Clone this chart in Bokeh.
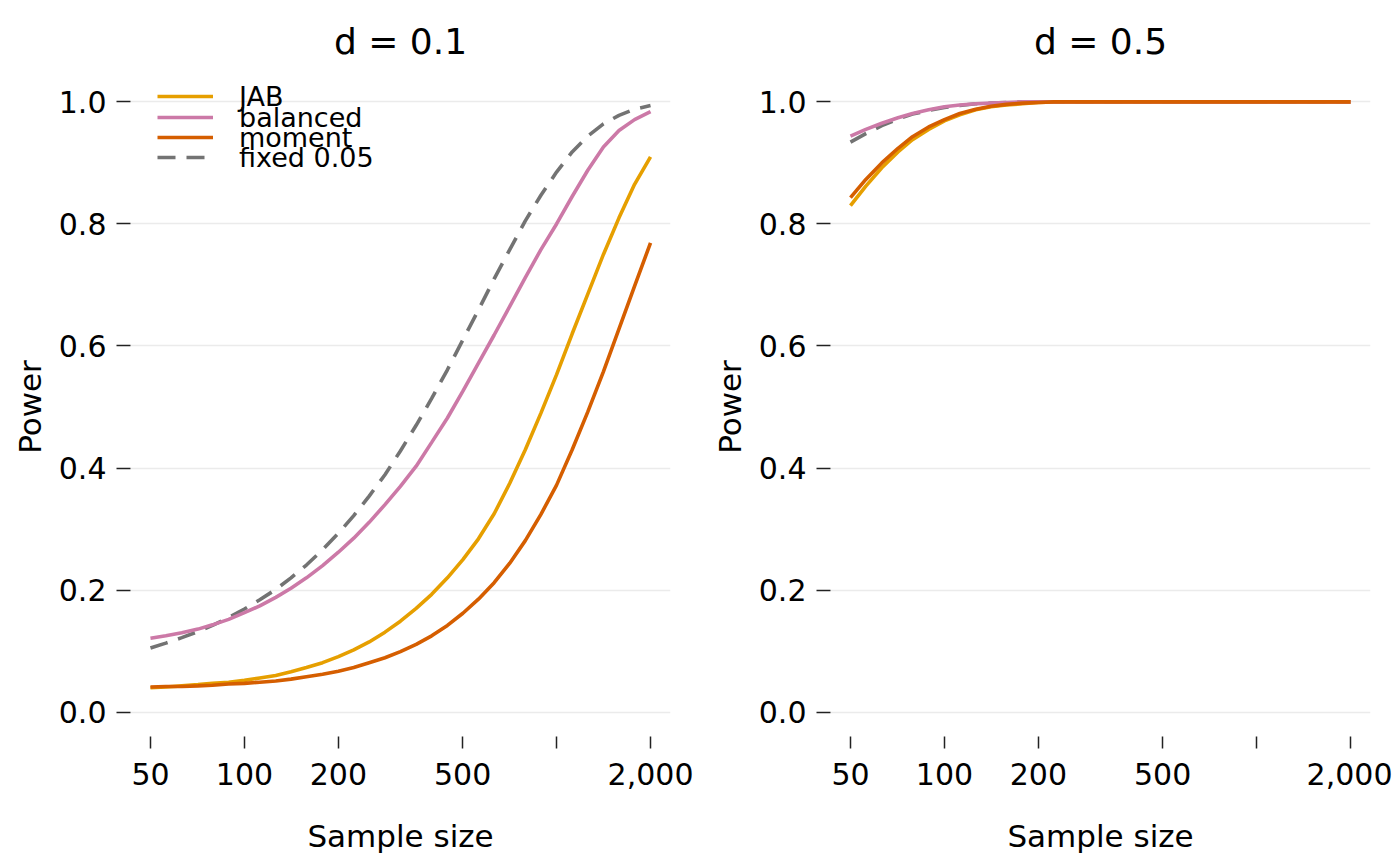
from bokeh.plotting import figure
from bokeh.layouts import row
from bokeh.models import Range1d, FixedTicker, Legend, LegendItem
from bokeh.embed import file_html
from bokeh.resources import INLINE

# ---- data ----
sample_size = [50, 56, 63, 71, 79, 89, 100, 112, 126, 141, 158, 178, 200, 224,
               251, 282, 316, 355, 398, 447, 501, 562, 631, 708, 794, 891, 1000,
               1122, 1259, 1413, 1585, 1778, 2000]

# d = 0.1
jab_01 = [0.040, 0.041, 0.043, 0.045, 0.047, 0.049, 0.052, 0.056, 0.060, 0.066,
          0.073, 0.081, 0.091, 0.102, 0.115, 0.131, 0.149, 0.170, 0.193, 0.220,
          0.250, 0.284, 0.325, 0.375, 0.430, 0.490, 0.553, 0.620, 0.685, 0.750,
          0.810, 0.865, 0.910]
balanced_01 = [0.121, 0.125, 0.130, 0.136, 0.143, 0.152, 0.163, 0.174, 0.188, 0.203,
               0.220, 0.240, 0.262, 0.285, 0.311, 0.340, 0.370, 0.403, 0.442, 0.482,
               0.526, 0.572, 0.618, 0.665, 0.712, 0.758, 0.800, 0.845, 0.888, 0.926,
               0.953, 0.971, 0.984]
moment_01 = [0.041, 0.042, 0.042, 0.043, 0.044, 0.046, 0.047, 0.049, 0.051, 0.054,
             0.058, 0.062, 0.067, 0.073, 0.081, 0.089, 0.099, 0.111, 0.125, 0.142,
             0.162, 0.185, 0.212, 0.244, 0.281, 0.324, 0.372, 0.430, 0.492, 0.558,
             0.628, 0.698, 0.769]
fixed_01 = [0.105, 0.113, 0.122, 0.132, 0.142, 0.155, 0.169, 0.184, 0.201, 0.220,
            0.241, 0.266, 0.293, 0.322, 0.354, 0.389, 0.428, 0.470, 0.514, 0.561,
            0.610, 0.659, 0.710, 0.758, 0.805, 0.847, 0.885, 0.918, 0.944, 0.964,
            0.978, 0.988, 0.994]

# d = 0.5
jab_05 = [0.830, 0.862, 0.892, 0.918, 0.938, 0.955, 0.969, 0.979, 0.987, 0.992,
          0.995, 0.997, 0.999, 1.0, 1.0, 1.0, 1.0, 1.0, 1.0, 1.0, 1.0, 1.0, 1.0,
          1.0, 1.0, 1.0, 1.0, 1.0, 1.0, 1.0, 1.0, 1.0, 1.0]
balanced_05 = [0.944, 0.955, 0.965, 0.974, 0.981, 0.987, 0.992, 0.995, 0.997, 0.998,
               0.999, 1.0, 1.0, 1.0, 1.0, 1.0, 1.0, 1.0, 1.0, 1.0, 1.0, 1.0, 1.0,
               1.0, 1.0, 1.0, 1.0, 1.0, 1.0, 1.0, 1.0, 1.0, 1.0]
moment_05 = [0.843, 0.873, 0.900, 0.924, 0.943, 0.959, 0.971, 0.981, 0.988, 0.993,
             0.996, 0.998, 0.999, 1.0, 1.0, 1.0, 1.0, 1.0, 1.0, 1.0, 1.0, 1.0, 1.0,
             1.0, 1.0, 1.0, 1.0, 1.0, 1.0, 1.0, 1.0, 1.0, 1.0]
fixed_05 = [0.934, 0.948, 0.961, 0.972, 0.980, 0.986, 0.991, 0.994, 0.997, 0.998,
            0.999, 1.0, 1.0, 1.0, 1.0, 1.0, 1.0, 1.0, 1.0, 1.0, 1.0, 1.0, 1.0,
            1.0, 1.0, 1.0, 1.0, 1.0, 1.0, 1.0, 1.0, 1.0, 1.0]

x_ticks = [50, 100, 200, 500, 1000, 2000]
x_tick_labels = ["50", "100", "200", "500", "", "2,000"]
y_ticks = [0.0, 0.2, 0.4, 0.6, 0.8, 1.0]
y_tick_labels = ["0.0", "0.2", "0.4", "0.6", "0.8", "1.0"]

series_names = ["JAB", "balanced", "moment", "fixed 0.05"]
series_colors = ["#E69F00", "#CC79A7", "#D55E00", "#737373"]
series_dash = ["solid", "solid", "solid", "18 11"]
draw_order = [3, 0, 1, 2]          # dashed reference line first, moment on top
legend_rows_from_top = [19, 40, 60, 80]

FONT = "DejaVu Sans"
FRAME_H = 659


def make_panel(title, values, legend, left, right):
    p = figure(width=left + 540 + right, height=77 + FRAME_H + 122, x_axis_type="log",
               x_range=Range1d(43.15, 2317.6), y_range=Range1d(-0.04, 1.04),
               output_backend="svg", toolbar_location=None,
               min_border_left=left, min_border_right=right,
               min_border_top=77, min_border_bottom=122)
    p.outline_line_color = None
    p.background_fill_color = "white"
    p.border_fill_color = "white"
    p.xgrid.visible = False
    p.ygrid.grid_line_color = "#EBEBEB"
    p.ygrid.grid_line_width = 1.5
    p.ygrid.ticker = FixedTicker(ticks=y_ticks)

    p.title.text = title
    p.title.align = "center"
    p.title.text_font = FONT
    p.title.text_font_size = "36px"
    p.title.text_font_style = "normal"
    p.title.text_color = "black"
    p.title.standoff = 31

    xa = p.xaxis[0]
    xa.ticker = FixedTicker(ticks=x_ticks)
    xa.major_label_overrides = {t: l for t, l in zip(x_ticks, x_tick_labels)}
    xa.axis_line_color = None
    xa.minor_tick_line_color = None
    xa.major_tick_in = 0
    xa.major_tick_out = 12
    xa.major_tick_line_color = "#222222"
    xa.major_tick_line_width = 1.5
    xa.major_label_standoff = 14
    xa.major_label_text_font = FONT
    xa.major_label_text_font_size = "30px"
    xa.major_label_text_color = "black"
    xa.axis_label = "Sample size"
    xa.axis_label_text_font = FONT
    xa.axis_label_text_font_size = "31px"
    xa.axis_label_text_font_style = "normal"
    xa.axis_label_text_color = "black"
    xa.axis_label_standoff = 30

    ya = p.yaxis[0]
    ya.ticker = FixedTicker(ticks=y_ticks)
    ya.major_label_overrides = {t: l for t, l in zip(y_ticks, y_tick_labels)}
    ya.axis_line_color = None
    ya.minor_tick_line_color = None
    ya.major_tick_in = 0
    ya.major_tick_out = 14
    ya.major_tick_line_color = "#222222"
    ya.major_tick_line_width = 1.5
    ya.major_label_standoff = 10
    ya.major_label_text_font = FONT
    ya.major_label_text_font_size = "30px"
    ya.major_label_text_color = "black"
    ya.axis_label = "Power"
    ya.axis_label_text_font = FONT
    ya.axis_label_text_font_size = "31px"
    ya.axis_label_text_font_style = "normal"
    ya.axis_label_text_color = "black"
    ya.axis_label_standoff = 8

    renderers = {}
    for i in draw_order:
        renderers[i] = p.line(sample_size, values[i], line_color=series_colors[i],
                              line_width=3.6, line_dash=series_dash[i])

    if legend:
        for i, name in enumerate(series_names):
            lg = Legend(items=[LegendItem(label=name, renderers=[renderers[i]])])
            lg.location = (27, FRAME_H - legend_rows_from_top[i] - 18)
            lg.margin = 0
            lg.padding = 0
            lg.spacing = 0
            lg.glyph_width = 56
            lg.glyph_height = 36
            lg.label_height = 36
            lg.label_standoff = 26
            lg.label_text_font = FONT
            lg.label_text_font_size = "27px"
            lg.label_text_color = "black"
            lg.background_fill_alpha = 0
            lg.border_line_color = None
            p.add_layout(lg, "center")
    return p


p1 = make_panel("d = 0.1", [jab_01, balanced_01, moment_01, fixed_01], True, 130, 30)
p2 = make_panel("d = 0.5", [jab_05, balanced_05, moment_05, fixed_05], False, 130, 22)

layout = row(p1, p2)
open("out.html", "w").write(file_html(layout, INLINE))
